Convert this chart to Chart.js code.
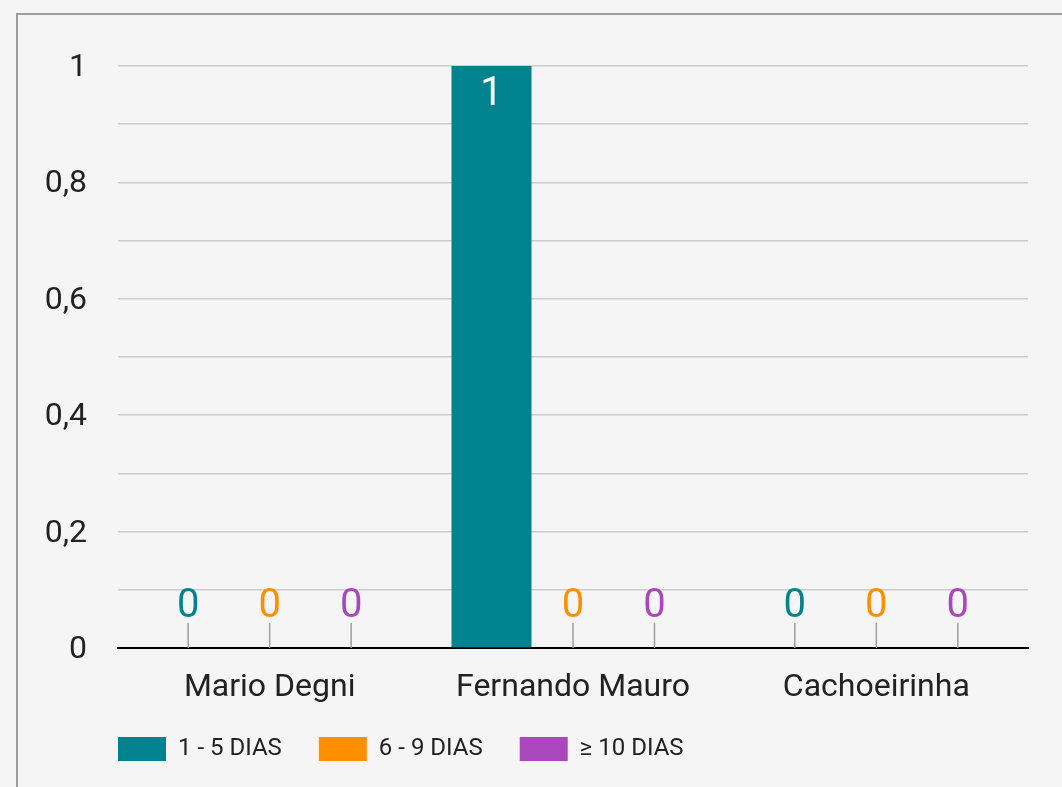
<!DOCTYPE html>
<html>
<head>
<meta charset="utf-8">
<script src="https://cdn.jsdelivr.net/npm/chart.js@4.4.1/dist/chart.umd.min.js"></script>
<style>
  html, body { margin: 0; padding: 0; background: #f5f5f5; overflow: hidden; width: 1062px; height: 787px; }
  #frame { position: absolute; left: 16px; top: 13px; width: 1200px; height: 900px; border: 2px solid #9e9e9e; box-sizing: border-box; }
  #wrap { position: absolute; left: 0; top: 0; width: 1062px; height: 787px; }
</style>
</head>
<body>
<div id="frame"></div>
<div id="wrap"><canvas id="c" width="1062" height="787"></canvas></div>
<script>
const categories = ['Mario Degni', 'Fernando Mauro', 'Cachoeirinha'];
const seriesNames = ['1 - 5 DIAS', '6 - 9 DIAS', '\u2265 10 DIAS'];
const series1 = [0, 1, 0];
const series2 = [0, 0, 0];
const series3 = [0, 0, 0];
const seriesColors = ['#00838f', '#ff8f00', '#ab47bc'];
const yMin = 0, yMax = 1, yStep = 0.1;

const FONT = 'Roboto, "Noto Sans", sans-serif';

const valueLabels = {
  id: 'valueLabels',
  afterDatasetsDraw(chart) {
    const ctx = chart.ctx;
    const yScale = chart.scales.y;
    const base = yScale.getPixelForValue(0);
    chart.data.datasets.forEach((ds, di) => {
      const meta = chart.getDatasetMeta(di);
      meta.data.forEach((bar, i) => {
        const v = ds.data[i];
        ctx.save();
        ctx.font = '40px ' + FONT;
        ctx.textAlign = 'center';
        ctx.textBaseline = 'alphabetic';
        if (v === 0) {
          ctx.strokeStyle = '#9e9e9e';
          ctx.lineWidth = 1.5;
          ctx.beginPath();
          ctx.moveTo(bar.x, base - 25);
          ctx.lineTo(bar.x, base);
          ctx.stroke();
          ctx.fillStyle = ds.backgroundColor;
          ctx.fillText(String(v), bar.x, base - 31);
        } else {
          ctx.fillStyle = '#ffffff';
          ctx.fillText(String(v).replace('.', ','), bar.x, bar.y + 39);
        }
        ctx.restore();
      });
    });
  }
};

// place the bottom legend so its first box lines up under the plot area
const legendShift = {
  id: 'legendShift',
  afterLayout(chart) {
    const lg = chart.legend;
    if (lg) {
      const h = lg.height;
      lg.left = 81;
      lg.top = 700;
      lg.bottom = 700 + h;
    }
  }
};

new Chart(document.getElementById('c'), {
  type: 'bar',
  data: {
    labels: categories,
    datasets: [
      { label: seriesNames[0], data: series1, backgroundColor: seriesColors[0] },
      { label: seriesNames[1], data: series2, backgroundColor: seriesColors[1] },
      { label: seriesNames[2], data: series3, backgroundColor: seriesColors[2] }
    ]
  },
  options: {
    responsive: false,
    animation: false,
    devicePixelRatio: 1,
    layout: { padding: { left: 16, right: 34, top: 66, bottom: 2 } },
    datasets: { bar: { categoryPercentage: 0.806, barPercentage: 0.982 } },
    plugins: {
      legend: {
        position: 'bottom',
        align: 'start',
        labels: {
          boxWidth: 48, boxHeight: 24, padding: 37,
          color: '#222222',
          font: { family: FONT, size: 24 }
        }
      },
      tooltip: { enabled: false },
      title: { display: false }
    },
    scales: {
      x: {
        grid: { display: false, drawTicks: false },
        border: { display: true, color: '#000000', width: 2 },
        ticks: { color: '#222222', font: { family: FONT, size: 32 }, padding: 21, maxRotation: 0 },
        afterFit(scale) { scale.height = 66; }
      },
      y: {
        min: yMin, max: yMax,
        grid: { color: '#cccccc', lineWidth: 1.5, drawTicks: false },
        border: { display: false },
        ticks: {
          stepSize: yStep,
          padding: 31,
          labelOffset: 2,
          color: '#222222',
          font: { family: FONT, size: 32 },
          autoSkip: false,
          callback(v) {
            const k = Math.round(v * 10);
            if (k % 2 !== 0) return '';
            return String(k / 10).replace('.', ',');
          }
        },
        afterFit(scale) { scale.width = 102; }
      }
    }
  },
  plugins: [valueLabels, legendShift]
});
</script>
</body>
</html>
